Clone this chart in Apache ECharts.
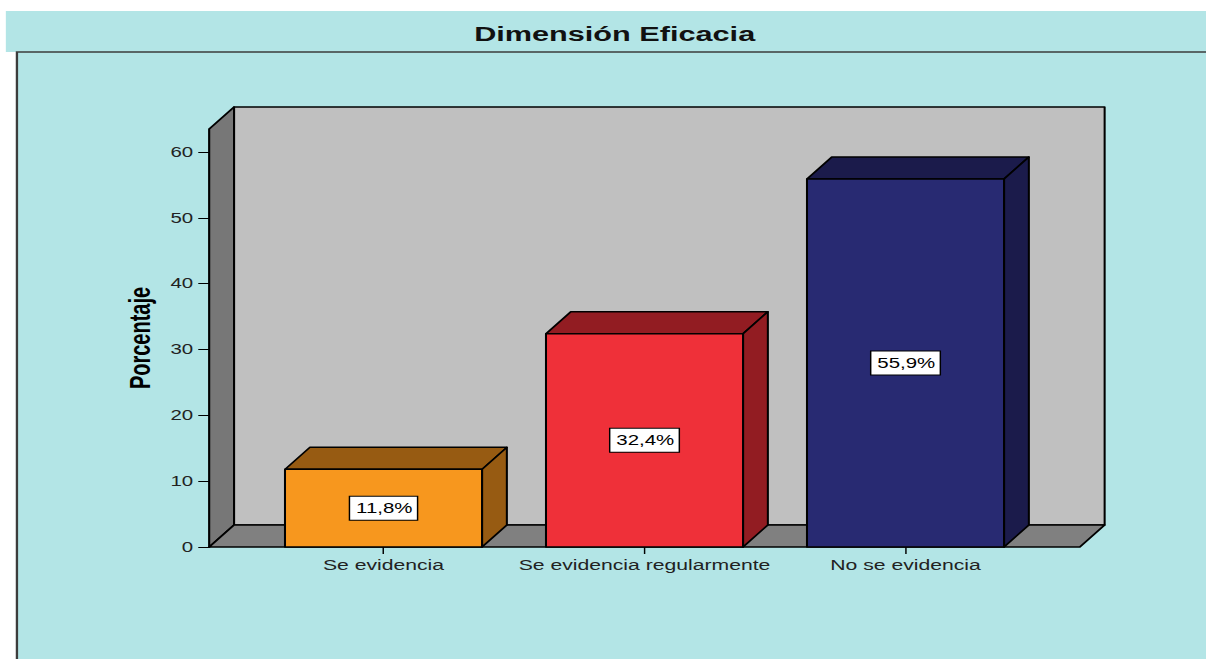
<!DOCTYPE html>
<html>
<head>
<meta charset="utf-8">
<script src="https://cdn.jsdelivr.net/npm/echarts@6/dist/echarts.min.js"></script>
<style>
html, body { margin: 0; padding: 0; background: #fff; overflow: hidden; }
/* the original SPSS picture is stretched sideways, so the chart is too */
#main { width: 826px; height: 659px; transform: scaleX(1.46); transform-origin: 0 0; }
</style>
</head>
<body>
<div id="main"></div>
<script>
var categories = ['Se evidencia', 'Se evidencia regularmente', 'No se evidencia'];
var percentages = [11.8, 32.4, 55.9];
var yTicks = [0, 10, 20, 30, 40, 50, 60];

var frontColors = ['#f7971e', '#ef3039', '#282a72'];
var shadeColors = ['#975b12', '#921c22', '#1b1b4b'];

var DX = 17, DY = 22;      // depth of the 3d box
var OVER = 30;             // floor overhang past the grid
var Y_MAX = 63.5;
var FONT = '"Liberation Sans", Arial, sans-serif';

var chart = echarts.init(document.getElementById('main'), null, { renderer: 'svg' });

function pct(v) {
    return v.toFixed(1).replace('.', ',') + '%';
}

var edge = { stroke: '#000', lineWidth: 1.4, lineJoin: 'round' };

function renderBox(params, api) {
    var cs = params.coordSys;
    var x0 = cs.x - OVER, x1 = cs.x + cs.width + OVER;
    var yt = cs.y, yb = cs.y + cs.height;
    return {
        type: 'group',
        children: [
            { type: 'polygon', shape: { points: [[x0 + DX, yt - DY], [x1 + DX, yt - DY], [x1 + DX, yb - DY], [x0 + DX, yb - DY]] },
              style: Object.assign({ fill: '#c0c0c0' }, edge) },
            { type: 'polygon', shape: { points: [[x0, yb], [x0, yt], [x0 + DX, yt - DY], [x0 + DX, yb - DY]] },
              style: Object.assign({ fill: '#777777' }, edge) },
            { type: 'polygon', shape: { points: [[x0, yb], [x1, yb], [x1 + DX, yb - DY], [x0 + DX, yb - DY]] },
              style: Object.assign({ fill: '#808080' }, edge) }
        ]
    };
}

function renderBar(params, api) {
    var i = api.value(0), v = api.value(1);
    var p = api.coord([i, v]);
    var b = api.coord([i, 0]);
    var w = api.size([1, 0])[0] * 0.755;
    var xl = p[0] - w / 2, xr = p[0] + w / 2;
    return {
        type: 'group',
        children: [
            { type: 'polygon', shape: { points: [[xl, p[1]], [xr, p[1]], [xr + DX, p[1] - DY], [xl + DX, p[1] - DY]] },
              style: Object.assign({ fill: shadeColors[i] }, edge) },
            { type: 'polygon', shape: { points: [[xr, p[1]], [xr + DX, p[1] - DY], [xr + DX, b[1] - DY], [xr, b[1]]] },
              style: Object.assign({ fill: shadeColors[i] }, edge) },
            { type: 'rect', shape: { x: xl, y: p[1], width: w, height: b[1] - p[1] },
              style: Object.assign({ fill: frontColors[i] }, edge) },
            { type: 'text', z2: 10,
              style: {
                  text: pct(v), x: p[0], y: (p[1] + b[1]) / 2,
                  align: 'center', verticalAlign: 'middle',
                  font: '14px ' + FONT, fill: '#000',
                  backgroundColor: '#fff', borderColor: '#000', borderWidth: 1,
                  padding: [5, 3, 4, 4]
              } }
        ]
    };
}

option = {
    backgroundColor: '#fff',
    animation: false,
    title: {
        text: 'Dimensión Eficacia',
        left: 421,
        textAlign: 'center',
        top: 23,
        padding: 0,
        textStyle: { fontFamily: FONT, fontSize: 21, fontWeight: 'bold', color: '#111' }
    },
    graphic: [
        { type: 'rect', z: -10, silent: true,
          shape: { x: 4, y: 11, width: 840, height: 41 }, style: { fill: '#b3e5e6' } },
        { type: 'rect', z: -9, silent: true,
          shape: { x: 11.6, y: 52, width: 840, height: 640 },
          style: { fill: '#b3e5e6', stroke: '#3c3c3c', lineWidth: 1.6 } }
    ],
    grid: { left: 173.3, right: 116.4, top: 129, bottom: 112 },
    xAxis: {
        type: 'category',
        data: categories,
        axisLine: { show: false },
        axisTick: { show: true, alignWithLabel: true, length: 7, lineStyle: { color: '#000', width: 1 } },
        axisLabel: { interval: 0, hideOverlap: false, margin: 11, fontFamily: FONT, fontSize: 14.5, color: '#222' },
        splitLine: { show: false }
    },
    yAxis: {
        type: 'value',
        min: 0,
        max: Y_MAX,
        interval: 10,
        offset: OVER,
        name: 'Porcentaje',
        nameLocation: 'middle',
        nameGap: 38,
        nameTextStyle: { fontFamily: FONT, fontSize: 20, fontWeight: 'bold', color: '#000' },
        axisLine: { show: true, lineStyle: { color: '#000', width: 1.4 } },
        axisTick: { show: true, length: 7.5, customValues: yTicks, lineStyle: { color: '#000', width: 1 } },
        axisLabel: { margin: 11, customValues: yTicks, fontFamily: FONT, fontSize: 14, color: '#222' },
        splitLine: { show: false }
    },
    series: [
        {
            type: 'custom',
            z: 1,
            silent: true,
            renderItem: renderBox,
            data: [[0, 0]]
        },
        {
            type: 'custom',
            z: 3,
            renderItem: renderBar,
            data: percentages.map(function (v, i) { return [i, v]; })
        }
    ]
};

chart.setOption(option);
</script>
</body>
</html>
